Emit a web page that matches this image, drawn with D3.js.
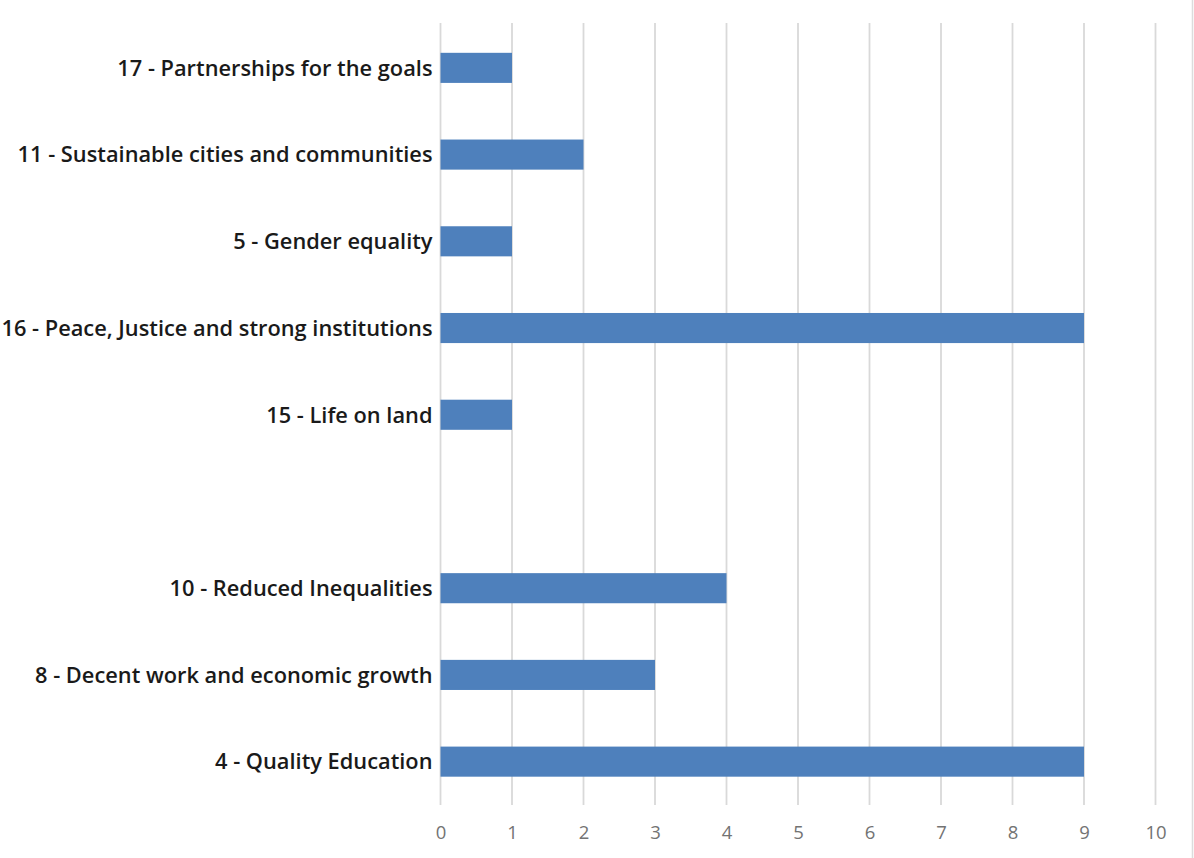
<!DOCTYPE html>
<html>
<head>
<meta charset="utf-8">
<script src="https://cdn.jsdelivr.net/npm/d3@7"></script>
<style>
  html, body { margin: 0; padding: 0; background: #fff; }
  svg { display: block; }
</style>
</head>
<body>
<svg id="chart" width="1194" height="858"></svg>
<script>
// SDG categories, top to bottom; the empty slot keeps the gap between goals 15 and 10
const categories = [
  "17 - Partnerships for the goals",
  "11 - Sustainable cities and communities",
  "5 - Gender equality",
  "16 - Peace, Justice and strong institutions",
  "15 - Life on land",
  "",
  "10 - Reduced Inequalities",
  "8 - Decent work and economic growth",
  "4 - Quality Education"
];
const counts = [1, 2, 1, 9, 1, null, 4, 3, 9];
const tickValues = [0, 1, 2, 3, 4, 5, 6, 7, 8, 9, 10];

const svg = d3.select("#chart");
const W = 1194, H = 858;
const margin = { top: 24.5, right: 38.5, bottom: 53, left: 440.5 };

const rows = categories.map((c, i) => ({ key: "row" + i, label: c, value: counts[i] }));

const x = d3.scaleLinear()
  .domain([0, 10])
  .range([margin.left, W - margin.right]);

const y = d3.scaleBand()
  .domain(rows.map(d => d.key))
  .range([margin.top, H - margin.bottom])
  .paddingInner(0.653)
  .paddingOuter(0.3265);

// frame edge on the right
svg.append("line")
  .attr("x1", 1192.5).attr("x2", 1192.5)
  .attr("y1", 0).attr("y2", H)
  .attr("stroke", "#dcdcdc").attr("stroke-width", 1.5);

// vertical gridlines
svg.append("g")
  .selectAll("line")
  .data(tickValues)
  .join("line")
  .attr("x1", d => x(d)).attr("x2", d => x(d))
  .attr("y1", 23).attr("y2", 805)
  .attr("stroke", "#d9d9d9")
  .attr("stroke-width", 1.8);

// bars
svg.append("g")
  .selectAll("rect")
  .data(rows.filter(d => d.value != null))
  .join("rect")
  .attr("x", x(0))
  .attr("y", d => y(d.key))
  .attr("width", d => x(d.value) - x(0))
  .attr("height", y.bandwidth())
  .attr("fill", "#4e80bc");

// category labels
svg.append("g")
  .selectAll("text")
  .data(rows)
  .join("text")
  .attr("x", x(0) - 8)
  .attr("y", d => y(d.key) + y.bandwidth() / 2)
  .attr("dy", "0.36em")
  .attr("text-anchor", "end")
  .attr("font-family", "'Open Sans', 'Noto Sans', sans-serif")
  .attr("font-size", 21.8)
  .attr("font-weight", 600)
  .attr("fill", "#1a1a1a")
  .text(d => d.label);

// value axis tick labels
const xAxis = d3.axisBottom(x)
  .tickValues(tickValues)
  .tickSize(0)
  .tickPadding(0)
  .tickFormat(d3.format("d"));

const gx = svg.append("g")
  .attr("transform", `translate(0, 832)`)
  .call(xAxis);
gx.select(".domain").remove();
gx.selectAll("text")
  .attr("dy", "0.36em")
  .attr("font-family", "'Open Sans', 'Noto Sans', sans-serif")
  .attr("font-size", 18.5)
  .attr("fill", "#737373");
</script>
</body>
</html>
